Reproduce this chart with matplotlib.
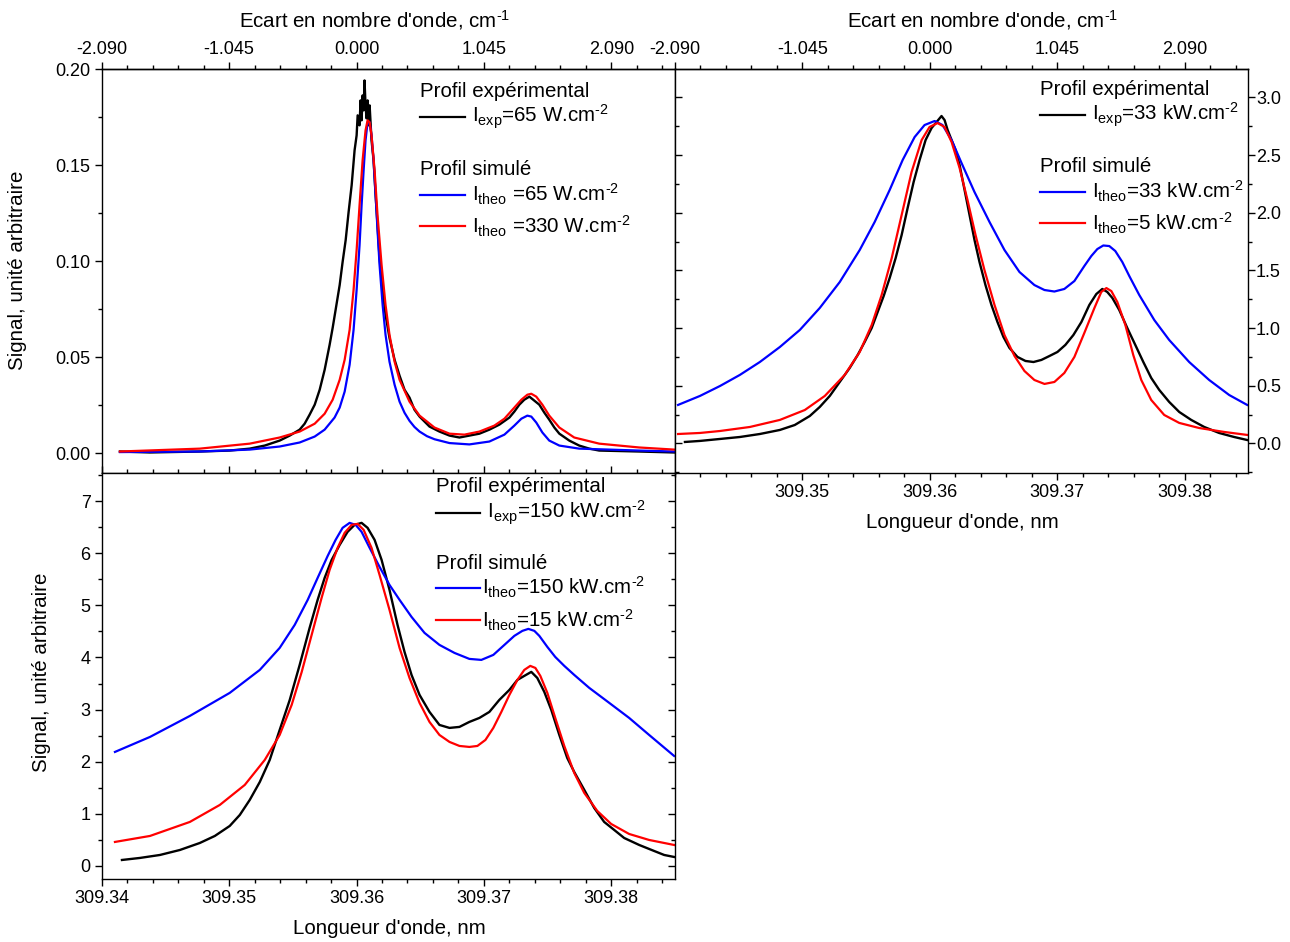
import numpy as np
import matplotlib
matplotlib.use('Agg')
import matplotlib.pyplot as plt
from matplotlib.ticker import MultipleLocator, FormatStrFormatter
from matplotlib.lines import Line2D

plt.rcParams['font.family'] = ['Liberation Sans', 'DejaVu Sans']
plt.rcParams['mathtext.fontset'] = 'custom'
plt.rcParams['mathtext.rm'] = 'Liberation Sans'
plt.rcParams['mathtext.it'] = 'Liberation Sans:italic'
plt.rcParams['axes.unicode_minus'] = False

# ---------------- données : panneau haut gauche (W.cm-2) ----------------
tl_wl_exp = [309.34143, 309.34379, 309.34770, 309.35005, 309.35162, 309.35280, 309.35397, 309.35476,
             309.35554, 309.35593, 309.35632, 309.35672, 309.35711, 309.35750, 309.35789, 309.35813,
             309.35836, 309.35868, 309.35891, 309.35915, 309.35938, 309.35962, 309.35985, 309.36001,
             309.36009, 309.36024, 309.36032, 309.36040, 309.36048, 309.36056, 309.36063, 309.36071,
             309.36079, 309.36087, 309.36095, 309.36103, 309.36118, 309.36134, 309.36150, 309.36165,
             309.36181, 309.36205, 309.36228, 309.36259, 309.36299, 309.36338, 309.36377, 309.36416,
             309.36455, 309.36495, 309.36573, 309.36651, 309.36730, 309.36808, 309.36886, 309.36965,
             309.37043, 309.37121, 309.37200, 309.37239, 309.37278, 309.37317, 309.37357, 309.37396,
             309.37435, 309.37474, 309.37513, 309.37553, 309.37592, 309.37670, 309.37748, 309.37827,
             309.37905, 309.38219, 309.38493]
tl_exp = [0.0008, 0.0003, 0.0008, 0.0013, 0.0023, 0.0039, 0.0065, 0.0091,
          0.0122, 0.0153, 0.0200, 0.0252, 0.0330, 0.0434, 0.0564, 0.0653,
          0.0746, 0.0876, 0.0996, 0.1110, 0.1256, 0.1396, 0.1578, 0.1656,
          0.1760, 0.1708, 0.1838, 0.1734, 0.1864, 0.1786, 0.1942, 0.1812,
          0.1744, 0.1838, 0.1708, 0.1812, 0.1630, 0.1526, 0.1344, 0.1188,
          0.1016, 0.0850, 0.0720, 0.0600, 0.0486, 0.0403, 0.0330, 0.0289,
          0.0226, 0.0190, 0.0138, 0.0112, 0.0091, 0.0081, 0.0091, 0.0101,
          0.0122, 0.0148, 0.0185, 0.0216, 0.0252, 0.0278, 0.0294, 0.0273,
          0.0252, 0.0211, 0.0174, 0.0133, 0.0101, 0.0065, 0.0039, 0.0023,
          0.0013, 0.0008, 0.0003]

tl_wl_blue = [309.34143, 309.34770, 309.35162, 309.35397, 309.35554, 309.35672, 309.35750, 309.35828,
              309.35868, 309.35907, 309.35946, 309.35977, 309.36001, 309.36024, 309.36040, 309.36056,
              309.36071, 309.36087, 309.36103, 309.36118, 309.36134, 309.36150, 309.36165, 309.36181,
              309.36205, 309.36228, 309.36259, 309.36299, 309.36338, 309.36377, 309.36416, 309.36455,
              309.36495, 309.36553, 309.36612, 309.36730, 309.36886, 309.37043, 309.37161, 309.37239,
              309.37294, 309.37341, 309.37372, 309.37411, 309.37459, 309.37513, 309.37592, 309.37748,
              309.38219, 309.38493]
tl_blue = [0.0005, 0.0008, 0.0018, 0.0034, 0.0055, 0.0086, 0.0122, 0.0185,
           0.0237, 0.0320, 0.0460, 0.0642, 0.0850, 0.1084, 0.1292, 0.1474,
           0.1630, 0.1724, 0.1724, 0.1656, 0.1526, 0.1344, 0.1162, 0.0980,
           0.0772, 0.0616, 0.0476, 0.0356, 0.0268, 0.0210, 0.0168, 0.0136,
           0.0112, 0.0088, 0.0072, 0.0052, 0.0045, 0.0060, 0.0096, 0.0143,
           0.0179, 0.0195, 0.0190, 0.0159, 0.0107, 0.0065, 0.0039, 0.0023,
           0.0013, 0.0008]

tl_wl_red = [309.34143, 309.34770, 309.35162, 309.35397, 309.35554, 309.35672, 309.35750, 309.35813,
             309.35868, 309.35907, 309.35946, 309.35977, 309.36001, 309.36024, 309.36048, 309.36071,
             309.36087, 309.36103, 309.36118, 309.36142, 309.36165, 309.36197, 309.36228, 309.36259,
             309.36299, 309.36338, 309.36416, 309.36495, 309.36612, 309.36730, 309.36847, 309.36965,
             309.37082, 309.37161, 309.37239, 309.37294, 309.37341, 309.37372, 309.37411, 309.37459,
             309.37513, 309.37592, 309.37709, 309.37905, 309.38219, 309.38493]
tl_red = [0.0008, 0.0023, 0.0049, 0.0081, 0.0112, 0.0153, 0.0205, 0.0278,
          0.0382, 0.0486, 0.0642, 0.0850, 0.1058, 0.1292, 0.1526, 0.1682,
          0.1734, 0.1724, 0.1656, 0.1474, 0.1240, 0.0980, 0.0772, 0.0616,
          0.0476, 0.0382, 0.0268, 0.0195, 0.0133, 0.0101, 0.0096, 0.0112,
          0.0143, 0.0179, 0.0237, 0.0278, 0.0304, 0.0309, 0.0294, 0.0252,
          0.0195, 0.0133, 0.0081, 0.0049, 0.0029, 0.0018]

# ---------------- données : panneau haut droit (kW.cm-2) ----------------
tr_wl_exp = [309.34078, 309.34196, 309.34353, 309.34509, 309.34666, 309.34823, 309.34940, 309.35058,
             309.35136, 309.35215, 309.35293, 309.35371, 309.35434, 309.35489, 309.35544, 309.35591,
             309.35638, 309.35685, 309.35732, 309.35779, 309.35826, 309.35873, 309.35920, 309.35967,
             309.36014, 309.36053, 309.36092, 309.36116, 309.36140, 309.36171, 309.36202, 309.36234,
             309.36273, 309.36312, 309.36351, 309.36390, 309.36437, 309.36484, 309.36531, 309.36578,
             309.36625, 309.36688, 309.36751, 309.36814, 309.36876, 309.36939, 309.37002, 309.37064,
             309.37127, 309.37190, 309.37252, 309.37307, 309.37354, 309.37393, 309.37433, 309.37487,
             309.37550, 309.37613, 309.37676, 309.37738, 309.37801, 309.37879, 309.37958, 309.38052,
             309.38154, 309.38271, 309.38389, 309.38491]
tr_exp = [0.013, 0.022, 0.039, 0.056, 0.082, 0.117, 0.160, 0.238,
          0.316, 0.412, 0.533, 0.654, 0.767, 0.880, 1.001, 1.140,
          1.278, 1.434, 1.607, 1.807, 2.041, 2.266, 2.457, 2.630,
          2.734, 2.786, 2.838, 2.803, 2.717, 2.630, 2.543, 2.413,
          2.197, 1.980, 1.763, 1.573, 1.373, 1.200, 1.053, 0.923,
          0.828, 0.750, 0.715, 0.706, 0.724, 0.758, 0.793, 0.854,
          0.940, 1.053, 1.200, 1.295, 1.339, 1.313, 1.261, 1.157,
          1.001, 0.854, 0.706, 0.568, 0.464, 0.360, 0.273, 0.204,
          0.143, 0.091, 0.056, 0.030]

tr_wl_blue = [309.34024, 309.34196, 309.34353, 309.34509, 309.34666, 309.34823, 309.34980, 309.35136,
              309.35293, 309.35450, 309.35567, 309.35685, 309.35787, 309.35881, 309.35959, 309.36038,
              309.36100, 309.36171, 309.36249, 309.36351, 309.36469, 309.36586, 309.36704, 309.36821,
              309.36900, 309.36978, 309.37056, 309.37135, 309.37213, 309.37268, 309.37315, 309.37362,
              309.37409, 309.37456, 309.37511, 309.37566, 309.37644, 309.37762, 309.37879, 309.38036,
              309.38193, 309.38350, 309.38491]
tr_blue = [0.334, 0.412, 0.498, 0.594, 0.706, 0.836, 0.984, 1.174,
           1.399, 1.677, 1.919, 2.197, 2.457, 2.656, 2.760, 2.795,
           2.760, 2.630, 2.431, 2.179, 1.919, 1.677, 1.486, 1.373,
           1.330, 1.317, 1.339, 1.408, 1.538, 1.625, 1.685, 1.716,
           1.711, 1.668, 1.573, 1.451, 1.287, 1.070, 0.897, 0.706,
           0.550, 0.420, 0.334]

tr_wl_red = [309.34024, 309.34196, 309.34353, 309.34588, 309.34823, 309.35019, 309.35176, 309.35332,
             309.35450, 309.35544, 309.35622, 309.35701, 309.35779, 309.35857, 309.35936, 309.35998,
             309.36061, 309.36116, 309.36171, 309.36234, 309.36296, 309.36359, 309.36429, 309.36508,
             309.36586, 309.36665, 309.36743, 309.36821, 309.36900, 309.36978, 309.37056, 309.37135,
             309.37213, 309.37292, 309.37346, 309.37386, 309.37425, 309.37472, 309.37535, 309.37597,
             309.37660, 309.37738, 309.37840, 309.37958, 309.38114, 309.38310, 309.38491]
tr_red = [0.082, 0.091, 0.108, 0.143, 0.204, 0.290, 0.412, 0.594,
          0.793, 1.027, 1.287, 1.607, 1.980, 2.353, 2.630, 2.743,
          2.777, 2.743, 2.613, 2.387, 2.110, 1.807, 1.503, 1.200,
          0.940, 0.758, 0.628, 0.550, 0.516, 0.533, 0.611, 0.750,
          0.958, 1.174, 1.313, 1.347, 1.321, 1.226, 1.027, 0.767,
          0.550, 0.377, 0.247, 0.178, 0.134, 0.100, 0.074]

# ---------------- données : panneau bas gauche (kW.cm-2) ----------------
bl_wl_exp = [309.34159, 309.34300, 309.34457, 309.34614, 309.34770, 309.34888, 309.35005, 309.35084,
             309.35162, 309.35241, 309.35319, 309.35397, 309.35476, 309.35554, 309.35632, 309.35695,
             309.35750, 309.35805, 309.35868, 309.35930, 309.35985, 309.36040, 309.36087, 309.36142,
             309.36197, 309.36259, 309.36322, 309.36377, 309.36432, 309.36495, 309.36573, 309.36651,
             309.36730, 309.36808, 309.36886, 309.36965, 309.37043, 309.37121, 309.37200, 309.37263,
             309.37317, 309.37372, 309.37419, 309.37474, 309.37529, 309.37592, 309.37654, 309.37709,
             309.37788, 309.37866, 309.37944, 309.38023, 309.38101, 309.38219, 309.38336, 309.38415,
             309.38493]
bl_exp = [0.115, 0.154, 0.211, 0.307, 0.441, 0.576, 0.768, 0.979,
          1.267, 1.612, 2.035, 2.610, 3.186, 3.858, 4.568, 5.106,
          5.528, 5.873, 6.161, 6.411, 6.545, 6.583, 6.488, 6.257,
          5.873, 5.298, 4.626, 4.107, 3.666, 3.282, 2.956, 2.706,
          2.649, 2.668, 2.764, 2.841, 2.956, 3.186, 3.378, 3.570,
          3.647, 3.724, 3.608, 3.340, 2.994, 2.514, 2.073, 1.804,
          1.459, 1.113, 0.845, 0.691, 0.537, 0.403, 0.288, 0.211,
          0.173]

bl_wl_blue = [309.34104, 309.34379, 309.34692, 309.35005, 309.35241, 309.35397, 309.35515, 309.35617,
              309.35695, 309.35774, 309.35836, 309.35891, 309.35946, 309.35993, 309.36040, 309.36103,
              309.36181, 309.36259, 309.36338, 309.36432, 309.36534, 309.36651, 309.36769, 309.36886,
              309.36980, 309.37074, 309.37161, 309.37239, 309.37302, 309.37349, 309.37396, 309.37435,
              309.37498, 309.37560, 309.37631, 309.37709, 309.37827, 309.37984, 309.38140, 309.38297,
              309.38493]
bl_blue = [2.188, 2.476, 2.879, 3.321, 3.762, 4.184, 4.626, 5.106,
           5.528, 5.950, 6.257, 6.488, 6.583, 6.545, 6.411, 6.104,
           5.739, 5.393, 5.106, 4.779, 4.472, 4.242, 4.088, 3.973,
           3.954, 4.050, 4.242, 4.415, 4.511, 4.549, 4.511, 4.415,
           4.203, 4.011, 3.839, 3.666, 3.417, 3.129, 2.841, 2.514,
           2.111]

bl_wl_red = [309.34104, 309.34379, 309.34692, 309.34927, 309.35123, 309.35280, 309.35397, 309.35491,
             309.35570, 309.35648, 309.35726, 309.35789, 309.35852, 309.35907, 309.35962, 309.36009,
             309.36056, 309.36118, 309.36181, 309.36259, 309.36338, 309.36416, 309.36495, 309.36573,
             309.36651, 309.36730, 309.36808, 309.36886, 309.36949, 309.37012, 309.37074, 309.37137,
             309.37200, 309.37263, 309.37317, 309.37364, 309.37404, 309.37443, 309.37498, 309.37560,
             309.37631, 309.37709, 309.37788, 309.37890, 309.37999, 309.38140, 309.38297, 309.38493]
bl_red = [0.461, 0.576, 0.845, 1.171, 1.555, 2.035, 2.514, 3.090,
          3.724, 4.434, 5.144, 5.681, 6.104, 6.392, 6.545, 6.564,
          6.449, 6.104, 5.585, 4.914, 4.184, 3.608, 3.129, 2.764,
          2.514, 2.380, 2.303, 2.284, 2.303, 2.418, 2.649, 2.956,
          3.282, 3.570, 3.762, 3.839, 3.800, 3.647, 3.321, 2.841,
          2.303, 1.785, 1.401, 1.056, 0.806, 0.614, 0.499, 0.403]

# textes de légende
tl_labels = [r'I$_{\mathrm{exp}}$=65 W.cm$^{\text{-2}}$',
             r'I$_{\mathrm{theo}}$ =65 W.cm$^{\text{-2}}$',
             r'I$_{\mathrm{theo}}$ =330 W.cm$^{\text{-2}}$']
tr_labels = [r'I$_{\mathrm{exp}}$=33 kW.cm$^{\text{-2}}$',
             r'I$_{\mathrm{theo}}$=33 kW.cm$^{\text{-2}}$',
             r'I$_{\mathrm{theo}}$=5 kW.cm$^{\text{-2}}$']
bl_labels = [r' I$_{\mathrm{exp}}$=150 kW.cm$^{\text{-2}}$',
             r'I$_{\mathrm{theo}}$=150 kW.cm$^{\text{-2}}$',
             r'I$_{\mathrm{theo}}$=15 kW.cm$^{\text{-2}}$']

wl_ticks = [309.34, 309.35, 309.36, 309.37, 309.38]
wn_ticks = [-2.090, -1.045, 0.000, 1.045, 2.090]

BLUE = '#0000ff'
RED = '#ff0000'
FS = 14.8
TFS = 13


def wl_to_wn(w):
    return (w - 309.36) * 104.5


def wn_to_wl(s):
    return s / 104.5 + 309.36


def style_axis(ax):
    for sp in ax.spines.values():
        sp.set_linewidth(1.0)
    ax.tick_params(which='major', length=5, width=1.0, labelsize=TFS, pad=3)
    ax.tick_params(which='minor', length=3, width=1.0)


def add_top_axis(ax):
    sec = ax.secondary_xaxis('top', functions=(wl_to_wn, wn_to_wl))
    sec.set_xticks(wn_ticks)
    sec.xaxis.set_major_formatter(FormatStrFormatter('%.3f'))
    sec.xaxis.set_minor_locator(MultipleLocator(0.209))
    sec.tick_params(which='major', direction='out', length=5, width=1.0, labelsize=TFS, pad=3)
    sec.tick_params(which='minor', direction='out', length=3, width=1.0)
    sec.spines['top'].set_linewidth(1.0)
    return sec


def draw_legend(ax, x0, x1, xt, y_head1, y_exp, y_head2, y_blue, y_red, labels):
    ax.text(x0, y_head1, 'Profil expérimental', transform=ax.transAxes, fontsize=FS,
            ha='left', va='center')
    ax.text(x0, y_head2, 'Profil simulé', transform=ax.transAxes, fontsize=FS,
            ha='left', va='center')
    for y, c, lab in zip([y_exp, y_blue, y_red], ['black', BLUE, RED], labels):
        ax.add_line(Line2D([x0, x1], [y, y], transform=ax.transAxes, color=c, lw=1.6))
        ax.text(xt, y, lab, transform=ax.transAxes, fontsize=FS, ha='left', va='center')


fig = plt.figure(figsize=(12.9, 9.42), dpi=100)
W, H = 1290.0, 942.0
x_l, x_m, x_r = 101.7 / W, 675.0 / W, 1248.3 / W
y_t, y_m, y_b = 1 - 69.3 / H, 1 - 473.0 / H, 1 - 879.0 / H

ax_tl = fig.add_axes([x_l, y_m, x_m - x_l, y_t - y_m])
ax_bl = fig.add_axes([x_l, y_b, x_m - x_l, y_m - y_b])
ax_tr = fig.add_axes([x_m, y_m, x_r - x_m, y_t - y_m])

xlim = (309.34, 309.385)

# --- haut gauche ---
ax_tl.plot(tl_wl_exp, tl_exp, color='black', lw=1.7)
ax_tl.plot(tl_wl_blue, tl_blue, color=BLUE, lw=1.6)
ax_tl.plot(tl_wl_red, tl_red, color=RED, lw=1.6)
ax_tl.set_xlim(*xlim)
ax_tl.set_ylim(-0.0104, 0.20)
ax_tl.xaxis.set_major_locator(MultipleLocator(0.01))
ax_tl.xaxis.set_minor_locator(MultipleLocator(0.002))
ax_tl.yaxis.set_major_locator(MultipleLocator(0.05))
ax_tl.yaxis.set_minor_locator(MultipleLocator(0.025))
ax_tl.yaxis.set_major_formatter(FormatStrFormatter('%.2f'))
style_axis(ax_tl)
ax_tl.tick_params(axis='x', which='both', direction='in', labelbottom=False)
ax_tl.tick_params(axis='y', which='both', direction='out')
add_top_axis(ax_tl)
draw_legend(ax_tl, 0.555, 0.634, 0.646, 0.945, 0.882, 0.751, 0.689, 0.612, tl_labels)

# --- haut droit ---
ax_tr.plot(tr_wl_exp, tr_exp, color='black', lw=1.7)
ax_tr.plot(tr_wl_blue, tr_blue, color=BLUE, lw=1.6)
ax_tr.plot(tr_wl_red, tr_red, color=RED, lw=1.6)
ax_tr.set_xlim(*xlim)
ax_tr.set_ylim(-0.256, 3.243)
ax_tr.set_xticks(wl_ticks[1:])
ax_tr.xaxis.set_minor_locator(MultipleLocator(0.002))
ax_tr.xaxis.set_major_formatter(FormatStrFormatter('%.2f'))
ax_tr.yaxis.set_major_locator(MultipleLocator(0.5))
ax_tr.yaxis.set_minor_locator(MultipleLocator(0.25))
ax_tr.yaxis.set_major_formatter(FormatStrFormatter('%.1f'))
style_axis(ax_tr)
ax_tr.tick_params(axis='x', which='both', direction='out')
ax_tr.tick_params(axis='y', which='both', direction='inout', left=True, right=True,
                  labelleft=False, labelright=True)
add_top_axis(ax_tr)
# graduations : vers l'extérieur à droite, vers l'intérieur à gauche
for tl in ax_tr.yaxis.get_major_ticks() + ax_tr.yaxis.get_minor_ticks():
    tl.tick1line.set_marker(matplotlib.lines.TICKRIGHT)
    tl.tick2line.set_marker(matplotlib.lines.TICKRIGHT)
draw_legend(ax_tr, 0.637, 0.715, 0.727, 0.950, 0.888, 0.759, 0.697, 0.619, tr_labels)

# --- bas gauche ---
ax_bl.plot(bl_wl_exp, bl_exp, color='black', lw=1.7)
ax_bl.plot(bl_wl_blue, bl_blue, color=BLUE, lw=1.6)
ax_bl.plot(bl_wl_red, bl_red, color=RED, lw=1.6)
ax_bl.set_xlim(*xlim)
ax_bl.set_ylim(-0.25, 7.54)
ax_bl.set_xticks(wl_ticks)
ax_bl.xaxis.set_minor_locator(MultipleLocator(0.002))
ax_bl.xaxis.set_major_formatter(FormatStrFormatter('%.2f'))
ax_bl.yaxis.set_major_locator(MultipleLocator(1))
ax_bl.yaxis.set_minor_locator(MultipleLocator(0.5))
style_axis(ax_bl)
ax_bl.tick_params(axis='x', which='both', direction='out')
ax_bl.tick_params(axis='y', which='both', direction='out', right=True)
for tl in ax_bl.yaxis.get_major_ticks() + ax_bl.yaxis.get_minor_ticks():
    tl.tick2line.set_marker(matplotlib.lines.TICKLEFT)
draw_legend(ax_bl, 0.583, 0.660, 0.663, 0.966, 0.901, 0.778, 0.717, 0.638, bl_labels)

# titres d'axes
fig.text(18 / W, 1 - 270 / H, "Signal, unité arbitraire", rotation=90, fontsize=FS,
         ha='center', va='center')
fig.text(42 / W, 1 - 672 / H, "Signal, unité arbitraire", rotation=90, fontsize=FS,
         ha='center', va='center')
fig.text(375 / W, 1 - 20 / H, r"Ecart en nombre d'onde, cm$^{\text{-1}}$", fontsize=FS,
         ha='center', va='center')
fig.text(983 / W, 1 - 20 / H, r"Ecart en nombre d'onde, cm$^{\text{-1}}$", fontsize=FS,
         ha='center', va='center')
fig.text(389 / W, 1 - 929 / H, "Longueur d'onde, nm", fontsize=FS, ha='center', va='center')
fig.text(962 / W, 1 - 522 / H, "Longueur d'onde, nm", fontsize=FS, ha='center', va='center')

fig.savefig('out.png', dpi=100)
